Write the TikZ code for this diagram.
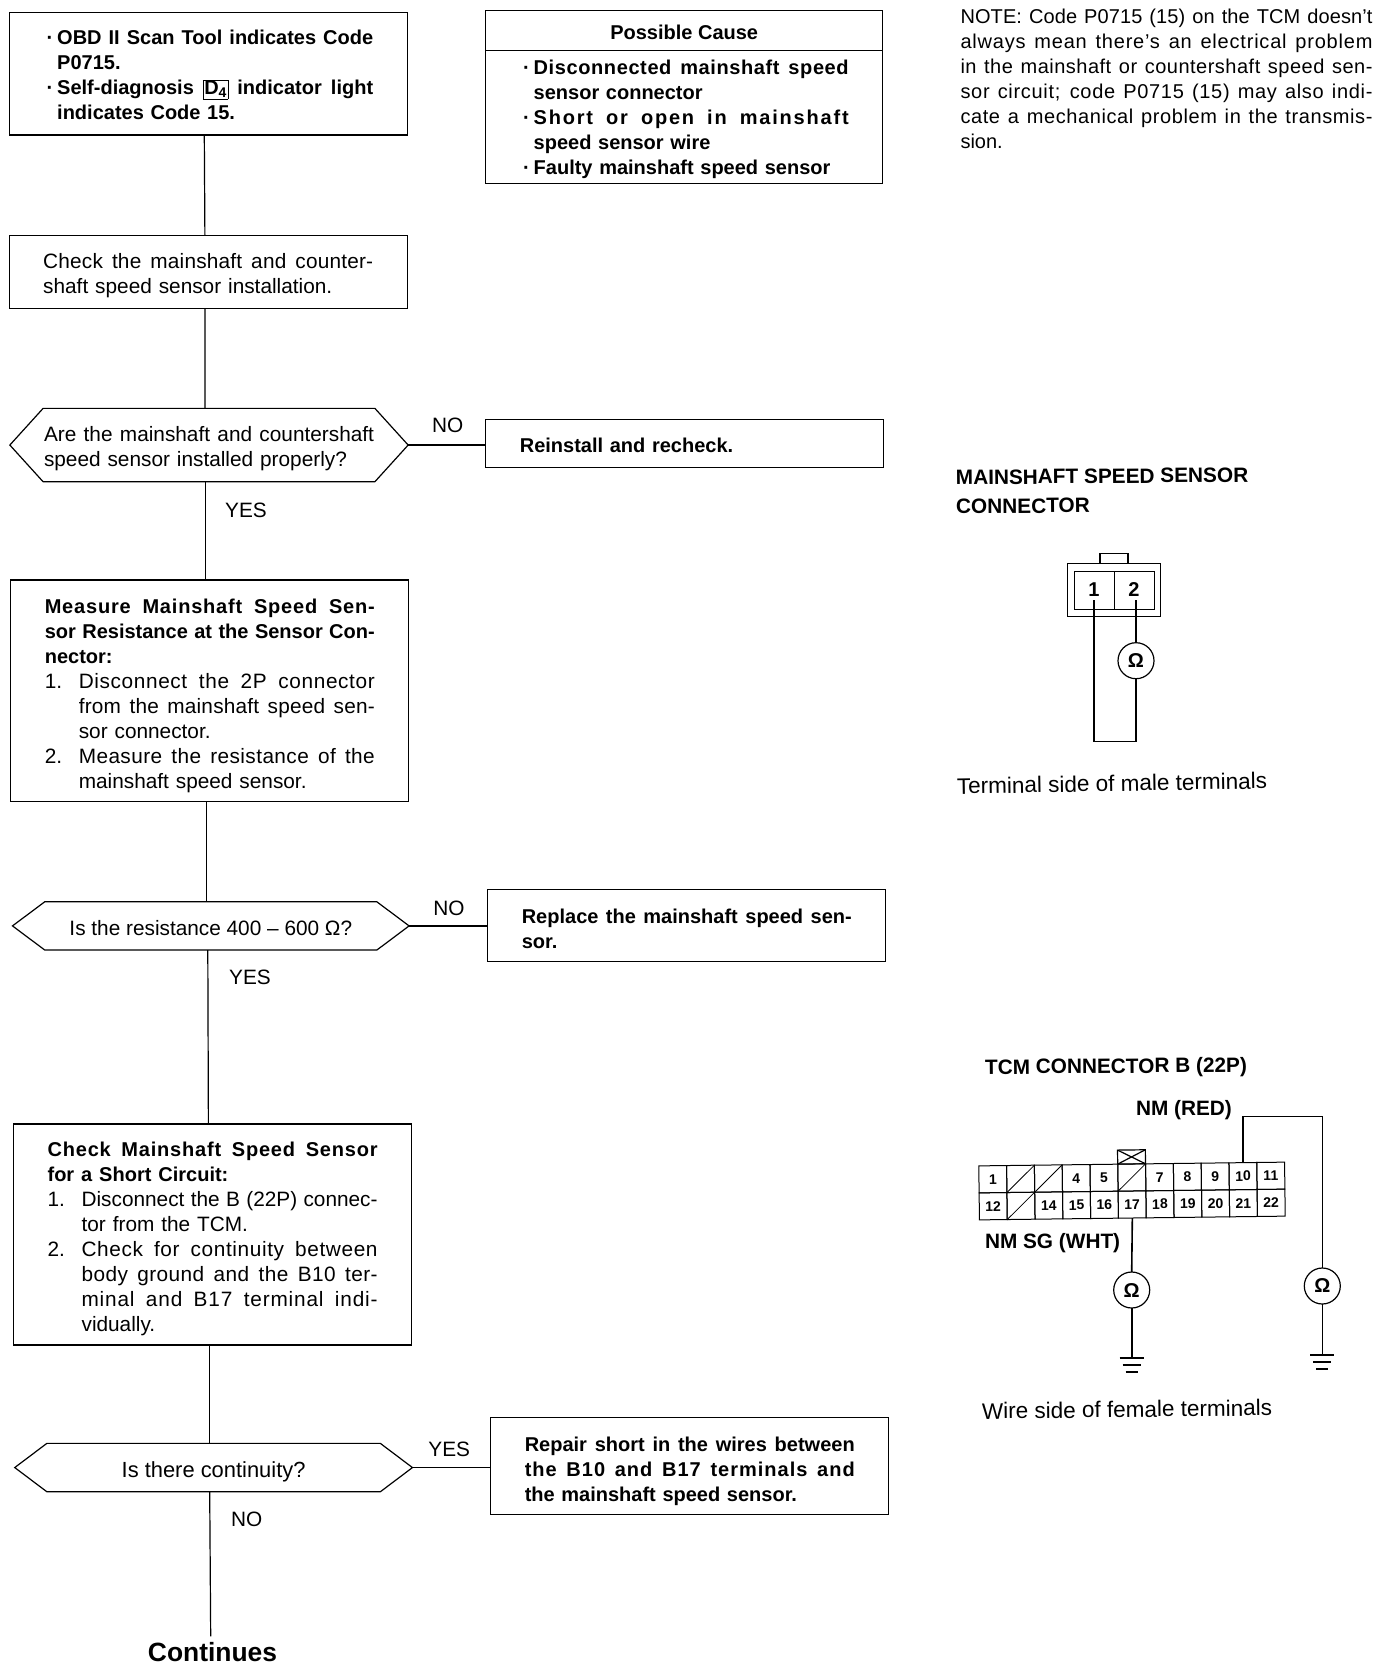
\documentclass[tikz,border=0pt]{standalone}
\usepackage{fontspec}
\setmainfont{Liberation Sans}
\usetikzlibrary{positioning,shapes.symbols}

\newcommand{\fitline}[3][0]{\makebox[#2pt][s]{\addfontfeature{LetterSpace=#1}\spaceskip=.28em plus 1fil\relax\xspaceskip=\spaceskip #3}}
\newcommand{\dotline}[1]{\makebox[14pt][r]{·\hspace{4pt}}#1}
\newcommand{\restline}[1]{\hspace*{14pt}#1}
\newcommand{\numline}[2]{\makebox[34pt][l]{#1}#2}
\newcommand{\numrest}[1]{\hspace*{34pt}#1}
\newcommand{\boldtext}[1]{{\fontsize{20}{25}\selectfont\bfseries #1}}

\begin{document}
\begin{tikzpicture}[
            x=1pt, y=-1pt,
            line width=1.2pt,
            every node/.style={outer sep=0pt},
            textfont/.style={font=\fontsize{20.8}{25}\selectfont},
            boldfont/.style={font=\fontsize{20}{25}\selectfont\bfseries},
            sunk/.style={execute at begin node={\rule{0pt}{#1pt}}},
            sunk/.default=23.5,
            stepbox/.style={draw, textfont, align=left, text width=330pt, inner xsep=34pt, inner ysep=0pt},
            askbox/.style={draw, shape=signal, signal to=east and west, textfont, inner sep=0pt},
            tag/.style={textfont, inner sep=0pt},
            sidenote/.style={font=\fontsize{22.5}{25}\selectfont, inner sep=0pt, anchor=west},
            heading/.style={font=\fontsize{20.8}{29}\selectfont\bfseries, inner sep=0pt, anchor=west, align=left},
            ohmeter/.style={draw, circle, minimum size=36pt, inner sep=0pt, font=\fontsize{20}{20}\selectfont\bfseries},
            pincell/.style={draw, line width=1pt, minimum width=27.8pt, minimum height=27pt, inner sep=0pt, font=\fontsize{14}{14}\selectfont\bfseries},
            wire/.style={line width=1.6pt}
        ]
        \useasboundingbox (0,0) rectangle (1392,1668);

        % Nodes
        \node (scan) [stepbox, boldfont, sunk=17, minimum height=122.3pt] at (208.2,73.9) {%
            \dotline{\fitline{316}{OBD II Scan Tool indicates Code}}\\
            \restline{P0715.}\\
            \dotline{\fitline{316}{Self-diagnosis {\fboxsep=1pt\fboxrule=0.3pt\fbox{D\textsubscript{4}}} indicator light}}\\
            \restline{indicates Code 15.}};
        \node (check) [stepbox, sunk, minimum height=73pt, below=100.3pt of scan] {%
            \fitline[1]{330}{Check the mainshaft and counter-}\\
            shaft speed sensor installation.};
        \node (ask1) [askbox, sunk=21.5, align=left, text width=330pt, signal pointer angle=95.6, minimum width=398.3pt, minimum height=73.4pt, below=100pt of check, xshift=0.8pt] {%
            \fitline{330}{Are the mainshaft and countershaft}\\
            speed sensor installed properly?};
        \node (measure) [stepbox, sunk, minimum height=221.7pt, below=98.3pt of ask1, xshift=0.8pt] {%
            \boldtext{\fitline[4]{330}{Measure Mainshaft Speed Sen-}}\\
            \boldtext{\fitline{330}{sor Resistance at the Sensor Con-}}\\
            \boldtext{nector:}\\
            \numline{1.}{\fitline[3]{296}{Disconnect the 2P connector}}\\
            \numrest{\fitline[1]{296}{from the mainshaft speed sen-}}\\
            \numrest{sor connector.}\\
            \numline{2.}{\fitline[2]{296}{Measure the resistance of the}}\\
            \numrest{mainshaft speed sensor.}};
        \node (ask2) [askbox, sunk=19.5, signal pointer angle=73.6, minimum height=48.3pt, minimum width=396.6pt, align=center, below=100pt of measure, xshift=1pt] {%
            Is the resistance 400 – 600 Ω?};
        \node (short) [stepbox, sunk, minimum height=221pt, below=174pt of ask2, xshift=1.8pt] {%
            \boldtext{\fitline[4]{330}{Check Mainshaft Speed Sensor}}\\
            \boldtext{for a Short Circuit:}\\
            \numline{1.}{\fitline{296}{Disconnect the B (22P) connec-}}\\
            \numrest{tor from the TCM.}\\
            \numline{2.}{\fitline[3]{296}{Check for continuity between}}\\
            \numrest{\fitline[2]{296}{body ground and the B10 ter-}}\\
            \numrest{\fitline[4]{296}{minal and B17 terminal indi-}}\\
            \numrest{vidually.}};
        \node (ask3) [askbox, sunk, signal pointer angle=74, minimum height=48.4pt, minimum width=397.7pt, align=center, font=\fontsize{21.9}{25}\selectfont, below=98.3pt of short, xshift=1pt] {%
            Is there continuity?};
        \node (more) [inner sep=0pt, font=\fontsize{26.4}{27}\selectfont\bfseries] at (212.5,1652) {Continues};

        \node (head) [draw, boldfont, sunk=18, minimum width=397pt, minimum height=40pt, inner sep=0pt] at (684.2,30.7) {Possible Cause};
        \node (causes) [stepbox, boldfont, sunk=19, text width=329pt, minimum height=132.6pt, below=0pt of head] {%
            \dotline{\fitline[3]{315}{Disconnected mainshaft speed}}\\
            \restline{sensor connector}\\
            \dotline{\fitline[9]{315}{Short or open in mainshaft}}\\
            \restline{speed sensor wire}\\
            \dotline{Faulty mainshaft speed sensor}};
        \node (reinstall) [stepbox, boldfont, sunk=19, minimum height=48.4pt, right=77.7pt of ask1, yshift=1.5pt] {Reinstall and recheck.};
        \node (replace) [stepbox, boldfont, sunk=21, minimum height=72pt, right=78.7pt of ask2, yshift=0.8pt] {%
            \fitline{330}{Replace the mainshaft speed sen-}\\
            sor.};
        \node (repair) [stepbox, boldfont, sunk=26, minimum height=96.7pt, right=78.3pt of ask3, yshift=1.8pt] {%
            \fitline{330}{Repair short in the wires between}\\
            \fitline[5]{330}{the B10 and B17 terminals and}\\
            the mainshaft speed sensor.};

        \node (yes1) [tag] at (246,510.7) {YES};
        \node (no1) [tag] at (447.7,425.7) {NO};
        \node (yes2) [tag] at (250,977.3) {YES};
        \node (no2) [tag] at (449,908) {NO};
        \node (yes3) [tag] at (449.3,1449.3) {YES};
        \node (no3) [tag] at (246.7,1519.3) {NO};

        \node (note) [font=\fontsize{20}{25}\selectfont, inner sep=0pt, align=left, text width=412pt] at (1166.5,79) {%
            \fitline[0.5]{412}{NOTE: Code P0715 (15) on the TCM doesn't}\\
            \fitline[4]{412}{always mean there's an electrical problem}\\
            \fitline[2.5]{412}{in the mainshaft or countershaft speed sen-}\\
            \fitline[3.5]{412}{sor circuit; code P0715 (15) may also indi-}\\
            \fitline[3]{412}{cate a mechanical problem in the transmis-}\\
            sion.};

        % Mainshaft sensor connector
        \node (title1) [heading, rotate=0.5] at (956,492) {MAINSHAFT SPEED SENSOR\\CONNECTOR};
        \node (shell) [draw, minimum width=93pt, minimum height=53pt, inner sep=0pt] at (1114,590) {};
        \node (tab) [draw, minimum width=28pt, minimum height=10pt, inner sep=0pt, above=0pt of shell] {};
        \node (pin1) [draw, boldfont, line width=1pt, minimum width=40pt, minimum height=38pt, inner sep=0pt] at (1094,590) {1};
        \node (pin2) [draw, boldfont, line width=1pt, minimum width=40pt, minimum height=38pt, inner sep=0pt, right=0pt of pin1] {2};
        \node (ohm1) [ohmeter] at (1136,660.7) {Ω};
        \node (side1) [sidenote, rotate=1] at (957,786) {Terminal side of male terminals};

        % TCM connector
        \node (title2) [heading, rotate=0.5] at (985,1069) {TCM CONNECTOR B (22P)};
        \node (nmred) [heading] at (1136,1110) {NM (RED)};
        \node (nmsg) [heading] at (985,1243) {NM SG (WHT)};
        \begin{scope}[rotate around={0.7:(1132,1191)}, transform shape]
            \foreach \n/\lbl [count=\i from 0] in {1/1,2/{},3/{},4/4,5/5,6/{},7/7,8/8,9/9,10/10,11/11}
                \node (cell\n) [pincell] at (993+27.8*\i,1177.5) {\lbl};
            \foreach \n [count=\i from 0] in {12,13,14,15,16,17,18,19,20,21,22}
                \node (cell\n) [pincell] at (993+27.8*\i,1204.5) {\ifnum\n=13\else\n\fi};
            \node (latch) [draw, minimum width=27.8pt, minimum height=14pt, inner sep=0pt, above=0pt of cell6] {};
        \end{scope}
        \node (ohm2) [ohmeter] at (1131.7,1290) {Ω};
        \node (ohm3) [ohmeter] at (1322.3,1286) {Ω};
        \coordinate (earth2) at (1131.7,1358);
        \coordinate (earth3) at (1322.3,1355);
        \node (side2) [sidenote, rotate=0.7] at (982,1411) {Wire side of female terminals};

        % Arrows
        \draw ([xshift=-3.9pt]scan.south) -- ([xshift=-3.3pt]check.north);
        \draw ([xshift=-3.3pt]check.south) -- ([xshift=-4pt]ask1.north);
        \draw ([xshift=-3.5pt]ask1.south) -- ([xshift=-4.3pt]measure.north);
        \draw ([xshift=-3.3pt]measure.south) -- ([xshift=-4.3pt]ask2.north);
        \draw ([xshift=-3pt]ask2.south) -- ([xshift=-4.2pt]short.north);
        \draw ([xshift=-2.9pt]short.south) -- ([xshift=-3.9pt]ask3.north);
        \draw ([xshift=-3.9pt]ask3.south) -- ([xshift=-1.8pt,yshift=6pt]more.north);
        \draw (ask1.east) -- (ask1.east -| reinstall.west);
        \draw (ask2.east) -- (ask2.east -| replace.west);
        \draw (ask3.east) -- (ask3.east -| repair.west);

        % Wiring
        \draw[wire] ([yshift=-10pt]pin1.center) -- ++(0,141.5) -| (ohm1.south);
        \draw[wire] ([xshift=2pt,yshift=-10pt]pin2.center) -- (ohm1.north);
        \draw (latch.north west) -- (latch.south east);
        \draw (latch.south west) -- (latch.north east);
        \foreach \n in {2,3,6,13}
            \draw[line width=0.8pt] (cell\n.south west) -- (cell\n.north east);
        \draw[wire] (cell10.north) -- ++(0,-46) -| (ohm3.north);
        \draw[wire] (ohm3.south) -- (earth3);
        \draw[wire] (cell17.south) -- (ohm2.north);
        \draw[wire] (ohm2.south) -- (earth2);
        \foreach \e in {earth2,earth3} {
            \draw ([xshift=-12pt]\e) -- ([xshift=12pt]\e);
            \draw ([xshift=-9pt,yshift=-7pt]\e) -- ([xshift=9pt,yshift=-7pt]\e);
            \draw ([xshift=-6pt,yshift=-14pt]\e) -- ([xshift=6pt,yshift=-14pt]\e);
        }
        \end{tikzpicture}
\end{document}
